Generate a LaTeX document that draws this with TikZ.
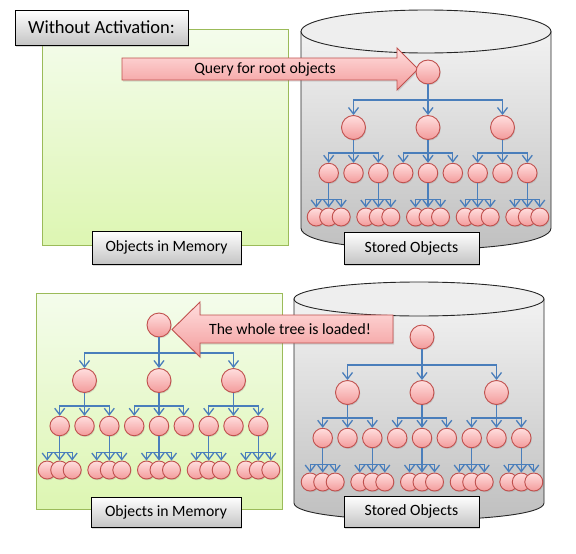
\documentclass[tikz,border=0pt]{standalone}
\usepackage{fontspec}
\setmainfont{Carlito}
\usetikzlibrary{calc,shadows,arrows.meta}
\definecolor{pinkTop}{RGB}{255,222,222}
\definecolor{pinkBot}{RGB}{243,155,155}
\definecolor{pinkLine}{RGB}{192,80,77}
\definecolor{connBlue}{RGB}{74,126,187}
\definecolor{greenTop}{RGB}{244,252,236}
\definecolor{greenBot}{RGB}{221,246,178}
\definecolor{greenLine}{RGB}{155,187,89}
\definecolor{cylTop}{RGB}{242,242,242}
\definecolor{cylBot}{RGB}{190,190,190}
\definecolor{cylLid}{RGB}{238,238,238}
\definecolor{boxBot}{RGB}{196,196,196}
\tikzset{
  obj/.style={circle, inner sep=0pt, draw=pinkLine, line width=0.9pt,
    top color=pinkTop, bottom color=pinkBot,
    drop shadow={opacity=0.25, shadow xshift=0.8pt, shadow yshift=-1.2pt}},
  lvA/.style={obj, minimum size=24pt},
  lvB/.style={obj, minimum size=19.5pt},
  lvC/.style={obj, minimum size=18pt},
  conn/.style={draw=connBlue, line width=1.3pt, -{Straight Barb[length=6.5pt,width=10pt]}},
  membox/.style={draw=greenLine, line width=0.9pt, top color=greenTop, bottom color=greenBot},
  cylbody/.style={draw=black!85, line width=0.9pt, top color=cylTop, bottom color=cylBot},
  cyllid/.style={draw=black!85, line width=0.9pt, fill=cylLid},
  labelbox/.style={draw=black, line width=0.8pt, top color=white, bottom color=boxBot,
    inner sep=0pt, font=\fontsize{15.7}{18}\selectfont,
    drop shadow={opacity=0.3, shadow xshift=1.2pt, shadow yshift=-1.5pt}},
  pinkarrow/.style={draw=pinkLine, line width=0.9pt, top color=pinkTop, bottom color=pinkBot,
    drop shadow={opacity=0.25, shadow xshift=1pt, shadow yshift=-1.5pt}},
  arrowtext/.style={inner sep=0pt, font=\fontsize{15.7}{18}\selectfont}
}
\newcommand{\objtree}[3]{%
  \node[lvA] (#1r) at (#2,#3) {};
  \foreach \i/\dx in {1/-74.5,2/0,3/74.5} {
    \node[lvA] (#1a\i) at ($(#1r)+(\dx,55.5)$) {};
    \draw[conn] (#1r.south) -- ++(0,15.5) -| (#1a\i.north);
    \foreach \j/\ex in {1/-24.8,2/0,3/24.8} {
      \node[lvB] (#1b\i\j) at ($(#1a\i)+(\ex,45.5)$) {};
      \draw[conn] (#1a\i.south) -- ++(0,13) -| (#1b\i\j.north);
    }
  }
  \foreach \p in {11,13,22,31,33} {
    \foreach \k/\fx in {1/-12.5,2/0,3/12.5} {
      \node[lvC] (#1c\p\k) at ($(#1b\p)+(\fx,44)$) {};
      \draw[conn] (#1b\p.south) -- ++(0,16) -| (#1c\p\k.north);
    }
  }
}
\begin{document}
\begin{tikzpicture}[x=1pt,y=-1pt]
\useasboundingbox (0,0) rectangle (576,554);
% ---------- top half ----------
\draw[membox] (42,29) rectangle (288,245);
\draw[cylbody] (301,31.5) -- (301,228) .. controls (301,256.7) and (551,256.7) .. (551,228) -- (551,31.5) -- cycle;
\draw[cyllid] (426,31.5) ellipse [x radius=125, y radius=21.5];
\node[labelbox, minimum width=173pt, minimum height=35pt, font=\fontsize{18.5}{21}\selectfont] (title) at (101.5,27.5) {Without Activation:};
\draw[pinkarrow] (122,58) -- (397,58) -- (397,48) -- (418,69) -- (397,90) -- (397,80) -- (122,80) -- cycle;
\node[arrowtext] (qtext) at (265,69) {Query for root objects};
\objtree{t}{428}{72}
\node[labelbox, minimum width=149pt, minimum height=33pt] (mem1) at (166.5,247.5) {Objects in Memory};
\node[labelbox, minimum width=135pt, minimum height=32pt] (sto1) at (411.5,248) {Stored Objects};
% ---------- bottom half ----------
\draw[membox] (36,293) rectangle (282,509);
\draw[cylbody] (294,299) -- (294,503) .. controls (294,525.7) and (544,525.7) .. (544,503) -- (544,299) -- cycle;
\draw[cyllid] (419,299) ellipse [x radius=125, y radius=17];
\objtree{m}{159}{325}
\objtree{s}{422}{337}
\draw[pinkarrow] (393,315) -- (200,315) -- (200,302) -- (172,329.5) -- (200,357) -- (200,343) -- (393,343) -- cycle;
\node[arrowtext] (ltext) at (290,329) {The whole tree is loaded!};
\node[labelbox, minimum width=150pt, minimum height=30pt] (mem2) at (166,512) {Objects in Memory};
\node[labelbox, minimum width=135pt, minimum height=31pt] (sto2) at (411.5,511.5) {Stored Objects};
\end{tikzpicture}
\end{document}
